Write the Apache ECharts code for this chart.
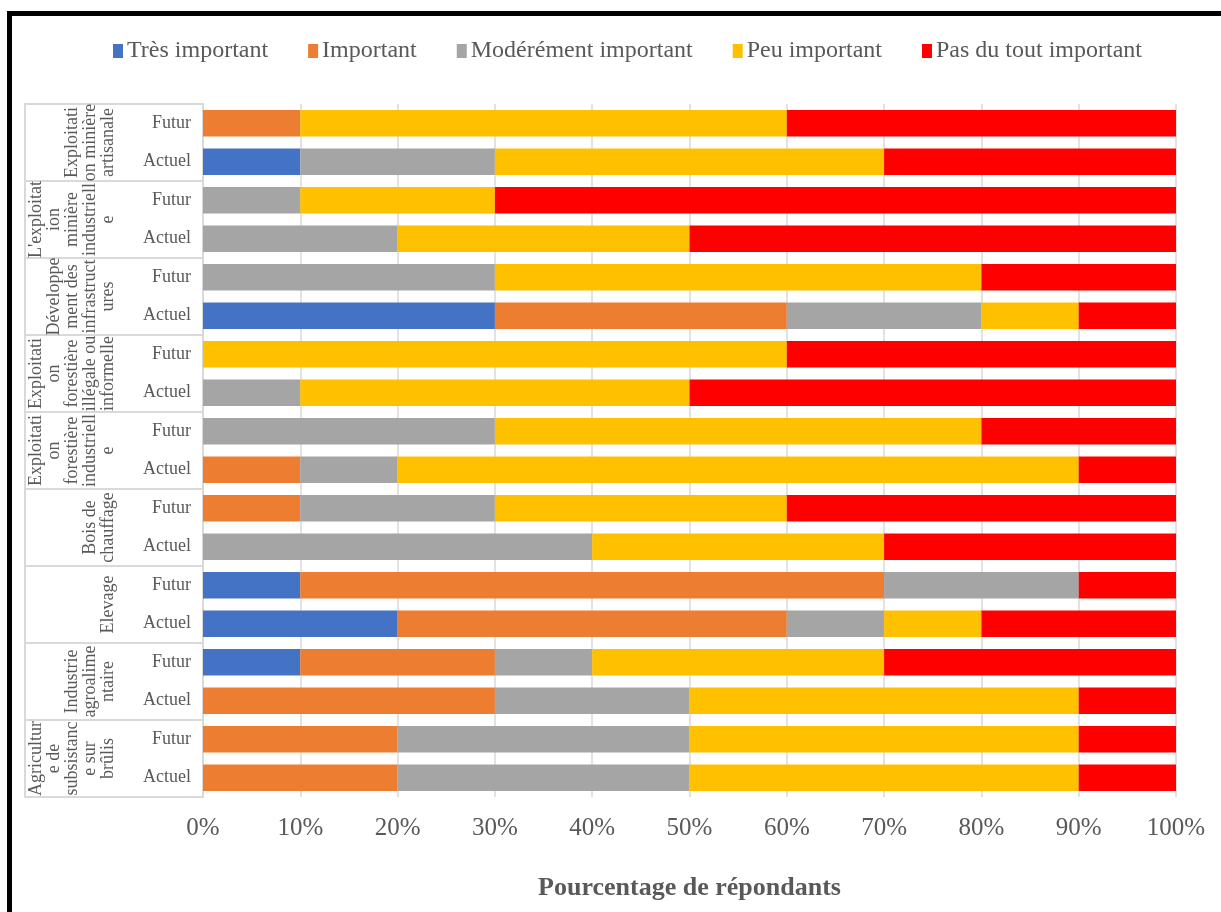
<!DOCTYPE html>
<html>
<head>
<meta charset="utf-8">
<script src="https://cdn.jsdelivr.net/npm/echarts@6/dist/echarts.min.js"></script>
<style>
  html, body { margin: 0; padding: 0; background: #fff; }
  #chart { position: absolute; left: 0; top: 0; width: 1221px; height: 912px; }
  #frame { position: absolute; left: 7px; top: 11px; right: 0; bottom: 0;
           border-top: 5px solid #000; border-left: 5px solid #000; pointer-events: none; }
</style>
</head>
<body>
<div id="chart"></div>
<div id="frame"></div>
<script>
// groups, top to bottom (each has a Futur row then an Actuel row)
var groups = [
  "Exploitati\non minière\nartisanale",
  "L'exploitat\nion\nminière\nindustriell\ne",
  "Développe\nment des\ninfrastruct\nures",
  "Exploitati\non\nforestière\nillégale ou\ninformelle",
  "Exploitati\non\nforestière\nindustriell\ne",
  "Bois de\nchauffage",
  "Elevage",
  "Industrie\nagroalime\nntaire",
  "Agricultur\ne de\nsubsistanc\ne sur\nbrûlis"
];
var rows = [];
groups.forEach(function () { rows.push('Futur'); rows.push('Actuel'); });

var levels = ['Très important', 'Important', 'Modérément important', 'Peu important', 'Pas du tout important'];
var colors = ['#4472C4', '#ED7D31', '#A5A5A5', '#FFC000', '#FF0000'];

var tresImportant = [0, 10, 0, 0, 0, 30, 0, 0, 0, 0, 0, 0, 10, 20, 10, 0, 0, 0];
var important      = [10, 0, 0, 0, 0, 30, 0, 0, 0, 10, 10, 0, 60, 40, 20, 30, 20, 20];
var modere         = [0, 20, 10, 20, 30, 20, 0, 10, 30, 10, 20, 40, 20, 10, 10, 20, 30, 30];
var peu            = [50, 40, 20, 30, 50, 10, 60, 40, 50, 70, 30, 30, 0, 10, 30, 40, 40, 40];
var pasDuTout      = [40, 30, 70, 50, 20, 10, 40, 50, 20, 10, 40, 30, 10, 20, 30, 10, 10, 10];
var values = [tresImportant, important, modere, peu, pasDuTout];

var xTicks = [0, 10, 20, 30, 40, 50, 60, 70, 80, 90, 100];

var font = "'Liberation Serif', 'Times New Roman', serif";
var grey = '#595959';
var lineCol = '#d9d9d9';

var myChart = echarts.init(document.getElementById('chart'));

var series = [];
for (var i = 0; i < levels.length; i++) {
  series.push({
    name: levels[i],
    type: 'bar',
    stack: 'total',
    barCategoryGap: '31%',
    itemStyle: { color: colors[i] },
    data: values[i]
  });
}

var option = {
  animation: false,
  textStyle: { fontFamily: font },
  legend: {
    top: 34,
    left: 108,
    itemWidth: 10,
    itemHeight: 14,
    itemGap: 40,
    icon: 'rect',
    data: levels,
    textStyle: { fontFamily: font, fontSize: 24, color: grey, padding: [0, 0, 0, -1] }
  },
  grid: { left: 203, right: 45, top: 104, bottom: 115 },
  xAxis: {
    type: 'value',
    min: xTicks[0],
    max: xTicks[xTicks.length - 1],
    interval: 10,
    axisLine: { show: false },
    axisTick: { show: false },
    splitLine: { lineStyle: { color: lineCol, width: 1.5 } },
    axisLabel: { formatter: '{value}%', fontFamily: font, fontSize: 25, color: grey, margin: 19 },
    name: 'Pourcentage de répondants',
    nameLocation: 'middle',
    nameGap: 78,
    nameTextStyle: { fontFamily: font, fontSize: 26, fontWeight: 'bold', color: grey }
  },
  yAxis: [
    {
      type: 'category',
      inverse: true,
      data: rows,
      axisLine: { lineStyle: { color: lineCol, width: 2 } },
      axisTick: { show: false },
      axisLabel: { fontFamily: font, fontSize: 18, color: grey, margin: 12 }
    },
    {
      type: 'category',
      inverse: true,
      position: 'left',
      offset: 178,
      data: groups,
      axisLine: { lineStyle: { color: lineCol, width: 2 } },
      axisTick: { show: true, inside: true, length: 178, lineStyle: { color: lineCol, width: 2 } },
      axisLabel: {
        interval: 0,
        inside: true,
        rotate: 90,
        margin: 92,
        align: 'center',
        verticalAlign: 'bottom',
        lineHeight: 18,
        fontFamily: font,
        fontSize: 18,
        color: grey
      }
    }
  ],
  series: series
};
myChart.setOption(option);
window.onresize = myChart.resize;
</script>
</body>
</html>
